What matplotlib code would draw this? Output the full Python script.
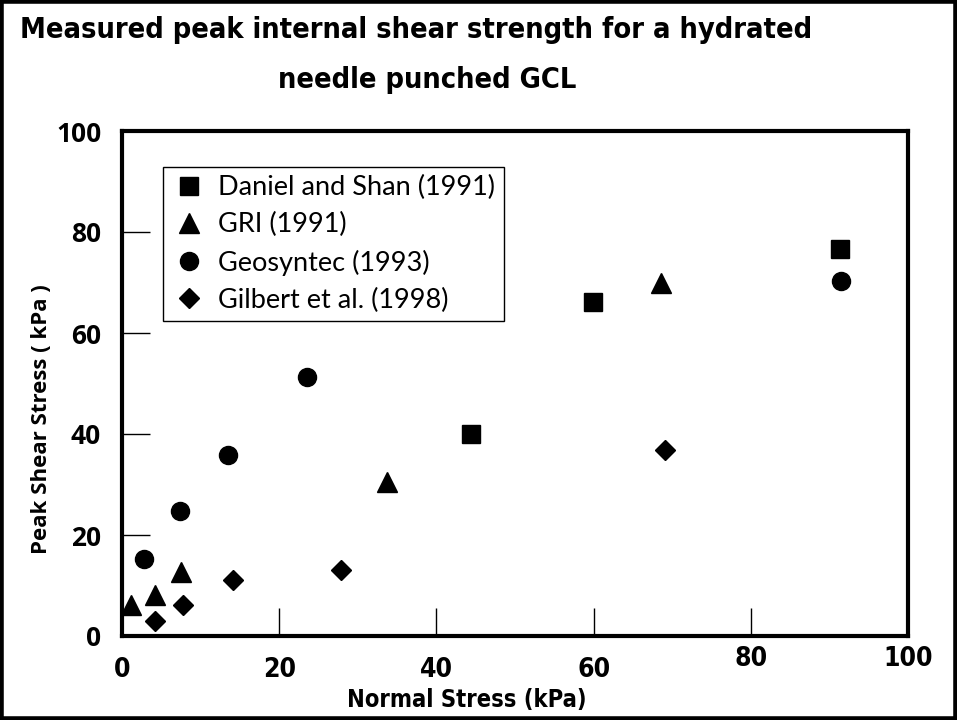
import matplotlib
matplotlib.use("Agg")
import matplotlib.pyplot as plt
from matplotlib.patches import Rectangle
from matplotlib.transforms import ScaledTranslation
from matplotlib import font_manager as fm

# ---- data ----
daniel_x = [44.4, 59.9, 91.3]
daniel_y = [40.0, 66.2, 76.6]
gri_x = [1.1, 4.2, 7.5, 33.7, 68.6]
gri_y = [6.1, 8.1, 12.7, 30.5, 70.0]
geo_x = [2.8, 7.4, 13.5, 23.5, 91.5]
geo_y = [15.2, 24.8, 35.8, 51.3, 70.3]
gil_x = [4.2, 7.8, 14.1, 27.9, 69.1]
gil_y = [3.0, 6.1, 11.1, 13.1, 36.8]
labels = ["Daniel and Shan (1991)", "GRI (1991)", "Geosyntec (1993)", "Gilbert et al. (1998)"]
xticks = [0, 20, 40, 60, 80, 100]
yticks = [0, 20, 40, 60, 80, 100]

# find a condensed bold sans if one is installed
cond = None
for f in fm.fontManager.ttflist:
    st = str(f.stretch)
    if ('condensed' in st or 'narrow' in f.name.lower()) and 'extra' not in st:
        w = f.weight if isinstance(f.weight, int) else 700 if 'bold' in str(f.weight) else 400
        if w >= 600 and 'mono' not in f.name.lower() and 'serif' not in f.name.lower():
            cond = f
            break
if cond is not None:
    narrow_kw = dict(fontproperties=fm.FontProperties(fname=cond.fname))
    title_size, tick_size, xl_size = 20.8, 19, 17
else:
    narrow_kw = dict(fontfamily=["Roboto", "DejaVu Sans"], fontweight='bold')
    title_size, tick_size, xl_size = 20, 17, 16

bold_sans = ["Open Sans", "DejaVu Sans"]
legend_font = ["Lato", "DejaVu Sans"]

fig = plt.figure(figsize=(9.57, 7.2), dpi=100)
ax = fig.add_axes([122/957, 1-636/720, 786/957, 505/720])

ms = 13
ax.plot(daniel_x, daniel_y, 's', color='black', ms=ms*0.95, label=labels[0], clip_on=False)
ax.plot(gri_x, gri_y, '^', color='black', ms=ms*1.15, label=labels[1], clip_on=False)
ax.plot(geo_x, geo_y, 'o', color='black', ms=ms*1.0, label=labels[2], clip_on=False)
ax.plot(gil_x, gil_y, 'D', color='black', ms=ms*0.8, label=labels[3], clip_on=False)

ax.set_xlim(0, 100)
ax.set_ylim(0, 100)
for s in ax.spines.values():
    s.set_linewidth(3)
ax.set_xticks(xticks)
ax.set_yticks(yticks)
ax.tick_params(direction='in', length=20, width=1)
ax.tick_params(axis='x', pad=15)
ax.tick_params(axis='y', pad=15)
ax.set_xticklabels([str(t) for t in xticks])
ax.set_yticklabels([str(t) for t in yticks], fontfamily=bold_sans, fontweight='bold', fontsize=19)
for lab in ax.get_xticklabels():
    if cond is not None:
        lab.set_fontproperties(fm.FontProperties(fname=cond.fname, size=tick_size))
    else:
        lab.set_fontfamily(narrow_kw['fontfamily']); lab.set_fontweight('bold'); lab.set_fontsize(tick_size)
for lab in ax.get_xticklabels()[4:]:
    lab.set_transform(lab.get_transform() + ScaledTranslation(0, 8/72, fig.dpi_scale_trans))

xl = ax.set_xlabel("Normal Stress (kPa)", labelpad=4, **narrow_kw)
xl.set_fontsize(xl_size)
ax.xaxis.set_label_coords(0.439, -0.102)
xl.set_va('top')
ax.set_ylabel("Peak Shear Stress ( kPa )", fontfamily=bold_sans, fontweight='bold', fontsize=16)
ax.yaxis.set_label_coords(-0.089, 0.43)

leg = ax.legend(loc='upper left', bbox_to_anchor=(0.052, 0.929),
                prop={'family': legend_font, 'size': 19.5},
                frameon=True, fancybox=False, edgecolor='black', framealpha=1,
                borderpad=0.3, labelspacing=0.45, handletextpad=0.45, handlelength=1.3,
                borderaxespad=0)
leg.get_frame().set_linewidth(1)

t1 = fig.text(20/957, 1-30/720, "Measured peak internal shear strength for a hydrated",
              ha='left', va='center', **narrow_kw)
t1.set_fontsize(title_size)
t2 = fig.text(427/957, 1-80/720, "needle punched GCL", ha='center', va='center', **narrow_kw)
t2.set_fontsize(title_size)

fig.patches.append(Rectangle((0.0015, 0.002), 0.997, 0.996, transform=fig.transFigure,
                             fill=False, edgecolor='black', linewidth=4))

fig.savefig("out.png", dpi=100)
